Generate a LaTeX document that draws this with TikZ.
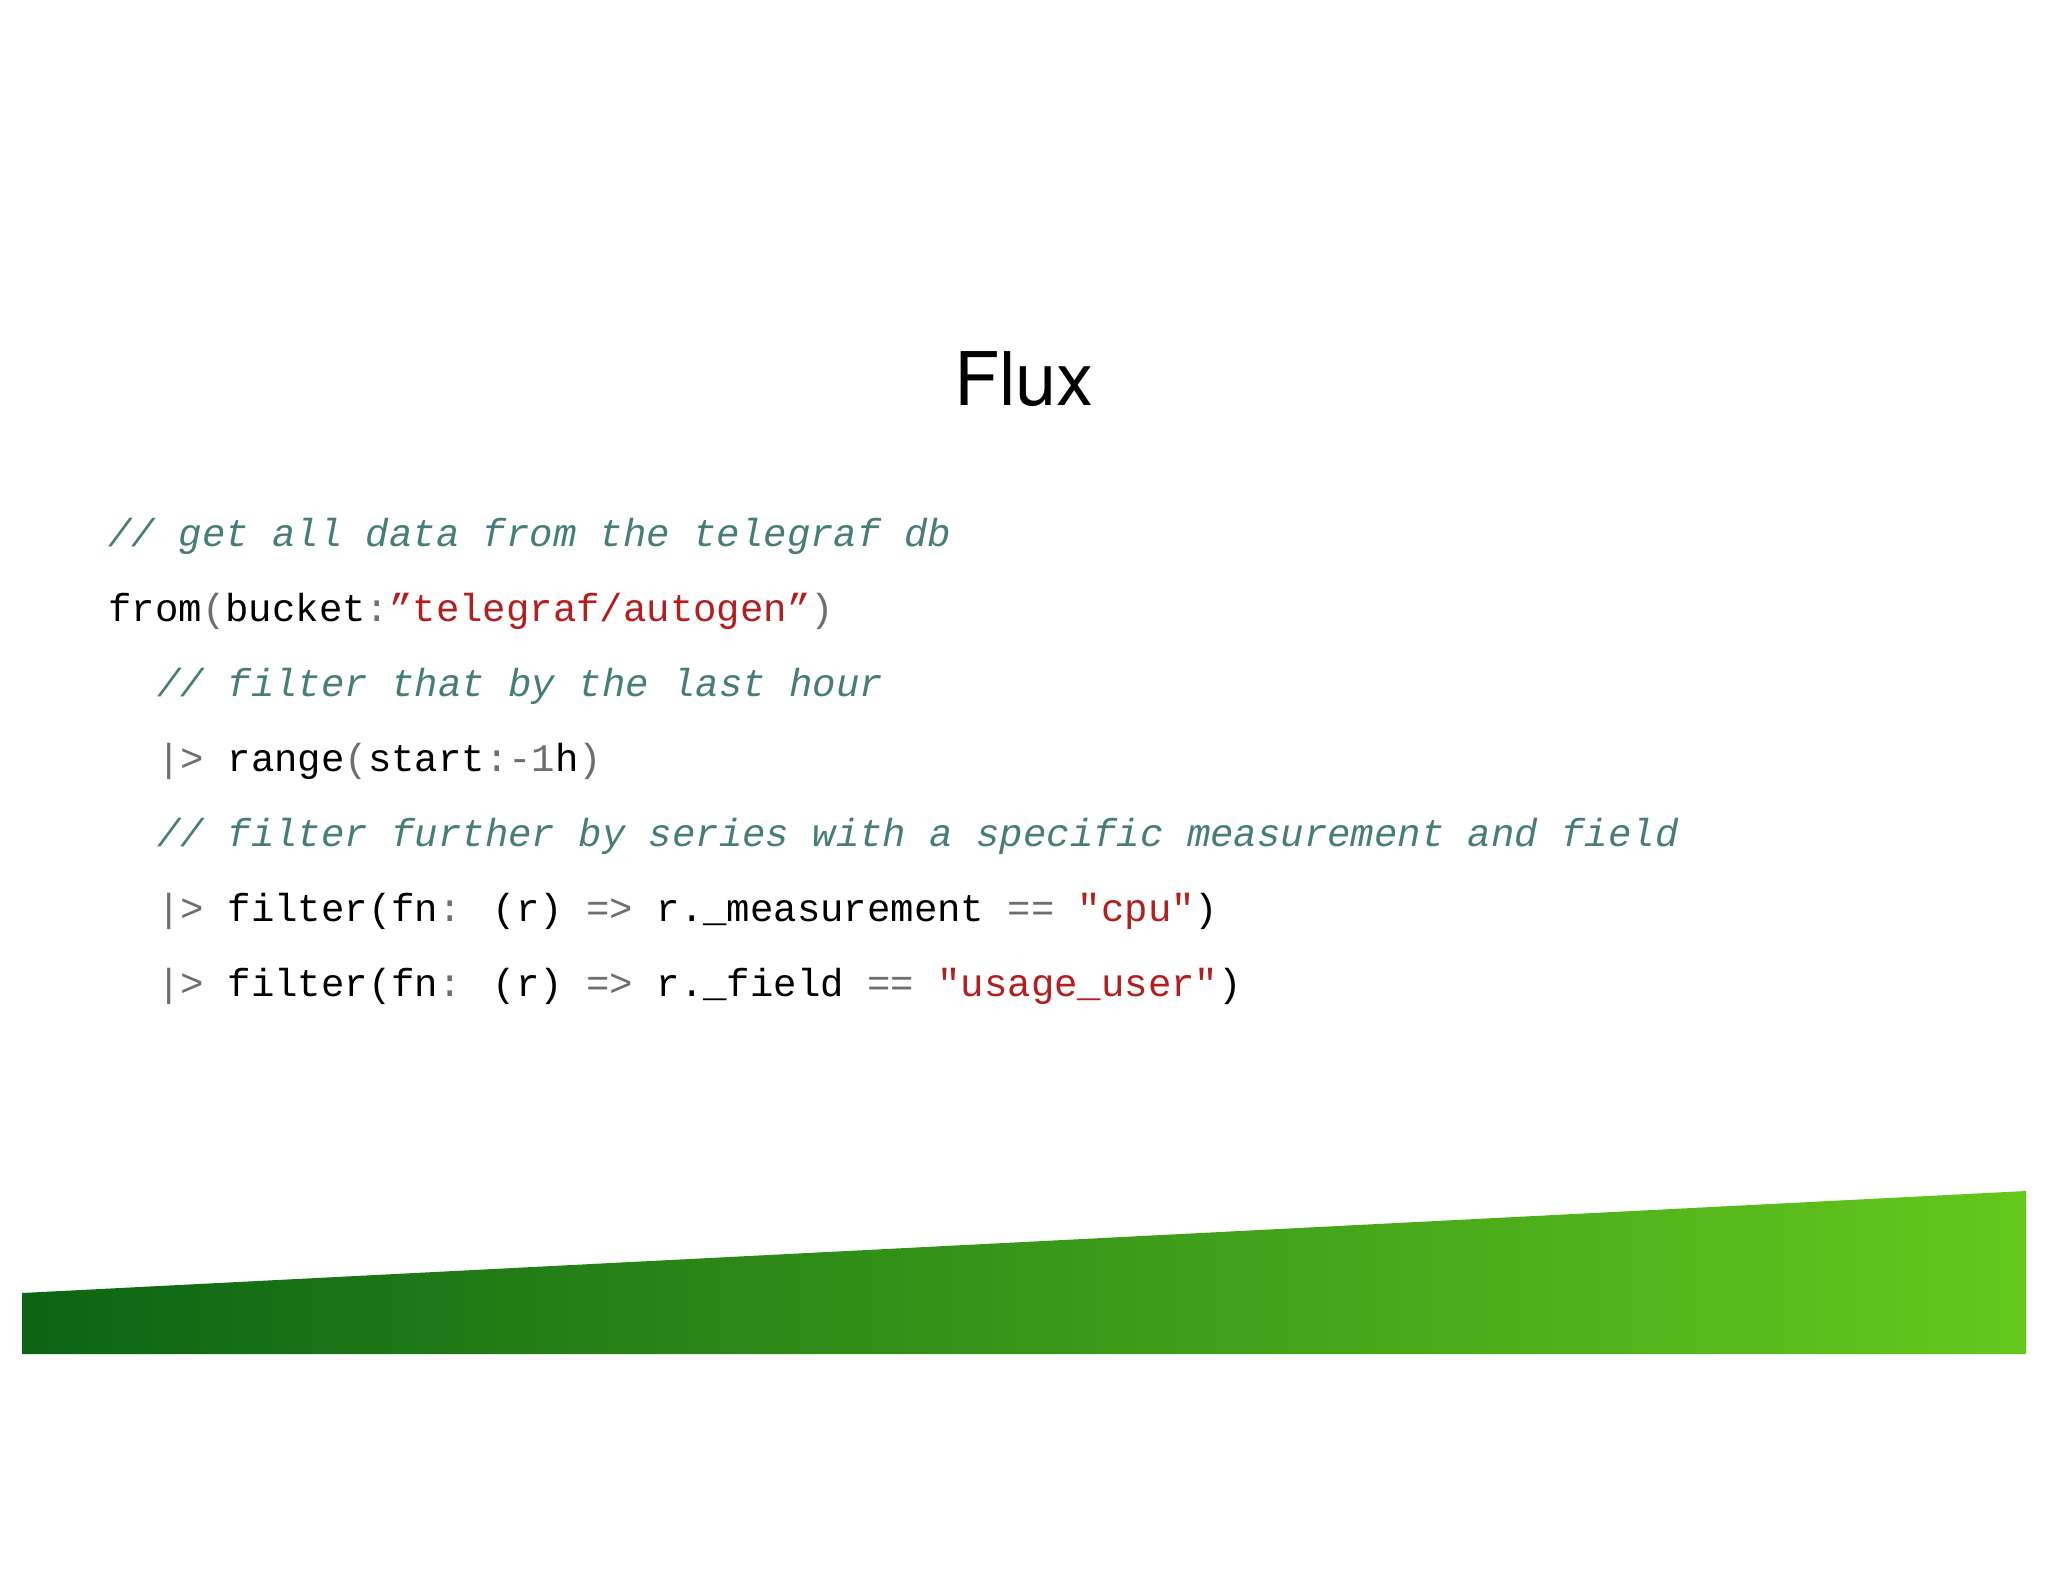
\documentclass[tikz,border=0pt]{standalone}
\usepackage{fontspec}
\setmainfont{TeX Gyre Heros}
\newfontfamily\codefont{Liberation Mono}
\definecolor{cmt}{RGB}{70,125,120}
\definecolor{str}{RGB}{180,30,30}
\definecolor{op}{RGB}{110,110,110}
\definecolor{gdark}{RGB}{12,100,20}
\definecolor{gmid}{RGB}{40,170,10}
\definecolor{glight}{RGB}{100,200,30}
\tikzset{codeline/.style={anchor=base west,inner sep=0,font=\codefont\fontsize{19.5}{20}\selectfont}}
\newcommand{\cm}[1]{\textcolor{cmt}{\itshape #1}}
\newcommand{\st}[1]{\textcolor{str}{#1}}
\newcommand{\op}[1]{\textcolor{op}{#1}}
\begin{document}
\begin{tikzpicture}[x=0.5pt,y=-0.5pt]
\useasboundingbox (0,0) rectangle (2048,1582);
\fill[white] (0,0) rectangle (2048,1582);
\shade[left color=gdark, middle color=gmid, right color=glight] (22,1293) -- (2026,1191) -- (2026,1354) -- (22,1354) -- cycle;
\node[font=\fontsize{37}{40}\selectfont] (title) at (1024,379) {Flux};
\node[codeline] (l1) at (108,546) {\cm{// get all data from the telegraf db}};
\node[codeline] (l2) at (108,621) {from\op{(}bucket\op{:}\st{”telegraf/autogen”}\op{)}};
\node[codeline] (l3) at (157,696) {\cm{// filter that by the last hour}};
\node[codeline] (l4) at (157,771) {\op{|>} range\op{(}start\op{:-1}h\op{)}};
\node[codeline] (l5) at (157,846) {\cm{// filter further by series with a specific measurement and field}};
\node[codeline] (l6) at (157,921) {\op{|>} filter(fn\op{:} (r) \op{=>} r.\_measurement \op{==} \st{"cpu"})};
\node[codeline] (l7) at (157,996) {\op{|>} filter(fn\op{:} (r) \op{=>} r.\_field \op{==} \st{"usage\_user"})};
\end{tikzpicture}
\end{document}
